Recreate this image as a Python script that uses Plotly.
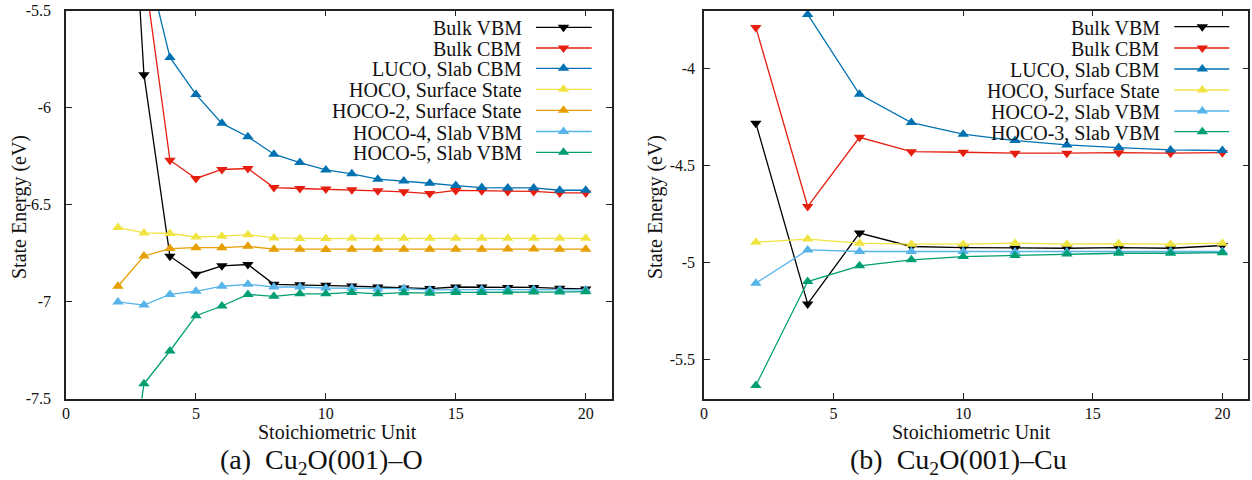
import plotly.graph_objects as go

W, H = 1252, 480

# ---------------- data: panel (a) Cu2O(001)-O ----------------
x_left = [2, 3, 4, 5, 6, 7, 8, 9, 10, 11, 12, 13, 14, 15, 16, 17, 18, 19, 20]
left_names = ["Bulk VBM", "Bulk CBM", "LUCO, Slab CBM", "HOCO, Surface State",
              "HOCO-2, Surface State", "HOCO-4, Slab VBM", "HOCO-5, Slab VBM"]
a_bulk_vbm = [-3.60, -5.830, -6.766, -6.859, -6.816, -6.809, -6.911, -6.913, -6.916, -6.920,
              -6.925, -6.930, -6.933, -6.925, -6.925, -6.927, -6.927, -6.932, -6.935]
a_bulk_cbm = [-4.30, -5.295, -6.271, -6.365, -6.319, -6.314, -6.412, -6.417, -6.420, -6.424,
              -6.429, -6.434, -6.443, -6.427, -6.429, -6.432, -6.432, -6.440, -6.440]
a_luco = [-4.60, -5.190, -5.741, -5.932, -6.081, -6.150, -6.240, -6.283, -6.321, -6.341,
          -6.369, -6.378, -6.390, -6.402, -6.412, -6.414, -6.414, -6.426, -6.426]
a_hoco = [-6.618, -6.646, -6.649, -6.667, -6.663, -6.655, -6.672, -6.675, -6.675, -6.674,
          -6.674, -6.674, -6.674, -6.674, -6.674, -6.674, -6.674, -6.674, -6.674]
a_hoco2 = [-6.921, -6.765, -6.727, -6.722, -6.722, -6.715, -6.730, -6.730, -6.731, -6.730,
           -6.730, -6.730, -6.730, -6.730, -6.730, -6.729, -6.729, -6.730, -6.730]
a_hoco4 = [-7.002, -7.018, -6.963, -6.947, -6.921, -6.911, -6.925, -6.925, -6.930, -6.931,
           -6.935, -6.933, -6.940, -6.938, -6.938, -6.938, -6.938, -6.940, -6.940]
a_hoco5 = [-8.37, -7.424, -7.255, -7.073, -7.023, -6.963, -6.973, -6.960, -6.960, -6.953,
           -6.960, -6.954, -6.957, -6.953, -6.953, -6.951, -6.951, -6.951, -6.949]
left_series = [a_bulk_vbm, a_bulk_cbm, a_luco, a_hoco, a_hoco2, a_hoco4, a_hoco5]

# ---------------- data: panel (b) Cu2O(001)-Cu ----------------
x_right = [2, 4, 6, 8, 10, 12, 14, 16, 18, 20]
right_names = ["Bulk VBM", "Bulk CBM", "LUCO, Slab CBM", "HOCO, Surface State",
               "HOCO-2, Slab VBM", "HOCO-3, Slab VBM"]
b_bulk_vbm = [-4.280, -5.212, -4.847, -4.916, -4.922, -4.925, -4.925, -4.922, -4.925, -4.911]
b_bulk_cbm = [-3.786, -4.710, -4.353, -4.427, -4.430, -4.435, -4.435, -4.432, -4.435, -4.432]
b_luco = [None, -3.719, -4.131, -4.277, -4.337, -4.370, -4.392, -4.406, -4.418, -4.421]
b_hoco = [-4.894, -4.878, -4.899, -4.904, -4.904, -4.899, -4.904, -4.902, -4.904, -4.899]
b_hoco2 = [-5.105, -4.934, -4.942, -4.942, -4.942, -4.945, -4.945, -4.942, -4.942, -4.942]
b_hoco3 = [-5.633, -5.097, -5.016, -4.985, -4.968, -4.963, -4.955, -4.951, -4.951, -4.948]
right_series = [b_bulk_vbm, b_bulk_cbm, b_luco, b_hoco, b_hoco2, b_hoco3]

# ticks
x_ticks = [0, 5, 10, 15, 20]
x_ticktext = ["0", "5", "10", "15", "20"]
yl_ticks = [-7.5, -7, -6.5, -6, -5.5]
yl_ticktext = ["-7.5", "-7", "-6.5", "-6", "-5.5"]
yr_ticks = [-5.5, -5, -4.5, -4]
yr_ticktext = ["-5.5", "-5", "-4.5", "-4"]

# styles
left_colors = ["#000000", "#e51e10", "#0072b2", "#f0e442", "#e69f00", "#56b4e9", "#009e73"]
right_colors = ["#000000", "#e51e10", "#0072b2", "#f0e442", "#56b4e9", "#009e73"]
left_symbols = ["triangle-down", "triangle-down"] + ["triangle-up"] * 5
right_symbols = ["triangle-down", "triangle-down"] + ["triangle-up"] * 4

SERIF = "Liberation Serif, Times New Roman, serif"
MSIZE = 10
LW = 1.3

fig = go.Figure()
for name, ys, c, s in zip(left_names, left_series, left_colors, left_symbols):
    fig.add_trace(go.Scatter(x=x_left, y=ys, name=name, mode="lines+markers",
                             line=dict(color=c, width=LW),
                             marker=dict(symbol=s, size=MSIZE, color=c),
                             xaxis="x", yaxis="y", showlegend=False))
for name, ys, c, s in zip(right_names, right_series, right_colors, right_symbols):
    fig.add_trace(go.Scatter(x=x_right, y=ys, name=name, mode="lines+markers",
                             line=dict(color=c, width=LW),
                             marker=dict(symbol=s, size=MSIZE, color=c),
                             xaxis="x2", yaxis="y2", showlegend=False))

def px(x):
    return x / W

def py(y):
    return 1 - y / H

axis_common = dict(showline=True, linecolor="#222222", linewidth=1.5, mirror="ticks",
                   ticks="inside", ticklen=6, tickwidth=1, tickcolor="#222222",
                   showgrid=False, zeroline=False, automargin=False,
                   tickfont=dict(family=SERIF, size=16, color="#111111"))

fig.update_layout(
    template="none",
    width=W, height=H, margin=dict(l=0, r=0, t=0, b=0, pad=0, autoexpand=False),
    paper_bgcolor="white", plot_bgcolor="white",
    xaxis=dict(domain=[px(66), px(611.7)], range=[0, 21], tickvals=x_ticks,
               ticktext=x_ticktext, anchor="y", **axis_common),
    yaxis=dict(domain=[py(398.5), py(10.7)], range=[-7.5, -5.5], tickvals=yl_ticks,
               ticktext=yl_ticktext, anchor="x", ticklabelstandoff=10, **axis_common),
    xaxis2=dict(domain=[px(704), px(1248.3)], range=[0, 21], tickvals=x_ticks,
                ticktext=x_ticktext, anchor="y2", **axis_common),
    yaxis2=dict(domain=[py(398.5), py(10.7)], range=[-5.7, -3.7], tickvals=yr_ticks,
                ticktext=yr_ticktext, anchor="x2", ticklabelstandoff=4, **axis_common),
)

annotations = []
shapes = []

def label(text, x, y, size, angle=0):
    return dict(text=text, x=px(x), y=py(y), xref="paper", yref="paper",
                xanchor="center", yanchor="middle", showarrow=False, textangle=angle,
                borderpad=0, font=dict(family=SERIF, size=size, color="#111111"))

# axis titles and captions
annotations += [
    label("Stoichiometric Unit", 337, 432, 20),
    label("Stoichiometric Unit", 971, 432, 20),
    label("State Energy (eV)", 19, 207, 20, -90),
    label("State Energy (eV)", 655, 207, 20, -90),
    label("(a)&nbsp;&nbsp;Cu<sub>2</sub>O(001)–O", 321, 461, 28),
    label("(b)&nbsp;&nbsp;Cu<sub>2</sub>O(001)–Cu", 958, 461, 28),
]

# custom legends (text on the left, sample on the right)
def tri(symbol, half=5.77, top=5.0, bot=2.5):
    if symbol == "triangle-up":
        return f"M {-half},{-bot} L {half},{-bot} L 0,{top} Z"
    return f"M {-half},{bot} L {half},{bot} L 0,{-top} Z"

def add_legend(names, colors, symbols, text_right, line_x0, line_x1, mark_x, row_y):
    for i, (n, c, s) in enumerate(zip(names, colors, symbols)):
        yy = row_y[i]
        annotations.append(dict(text=n, x=px(text_right), y=py(yy + 1), xref="paper",
                                yref="paper", xanchor="right", yanchor="middle",
                                showarrow=False, borderpad=0,
                                font=dict(family=SERIF, size=20, color="#111111")))
        shapes.append(dict(type="line", xref="paper", yref="paper", x0=px(line_x0),
                           x1=px(line_x1), y0=py(yy), y1=py(yy),
                           line=dict(color=c, width=LW)))
        shapes.append(dict(type="path", xref="paper", yref="paper", xsizemode="pixel",
                           ysizemode="pixel", xanchor=px(mark_x), yanchor=py(yy),
                           path=tri(s), fillcolor=c, line=dict(width=0)))

add_legend(left_names, left_colors, left_symbols, 522.7, 536, 591.7, 563.5,
           [27.3, 48.0, 68.3, 89.3, 110.3, 131.5, 152.3])
add_legend(right_names, right_colors, right_symbols, 1161, 1174.3, 1229.3, 1202.3,
           [26.7, 48.0, 69.0, 90.0, 111.0, 131.7])

fig.update_layout(annotations=annotations, shapes=shapes)

fig.write_html("out.html")
